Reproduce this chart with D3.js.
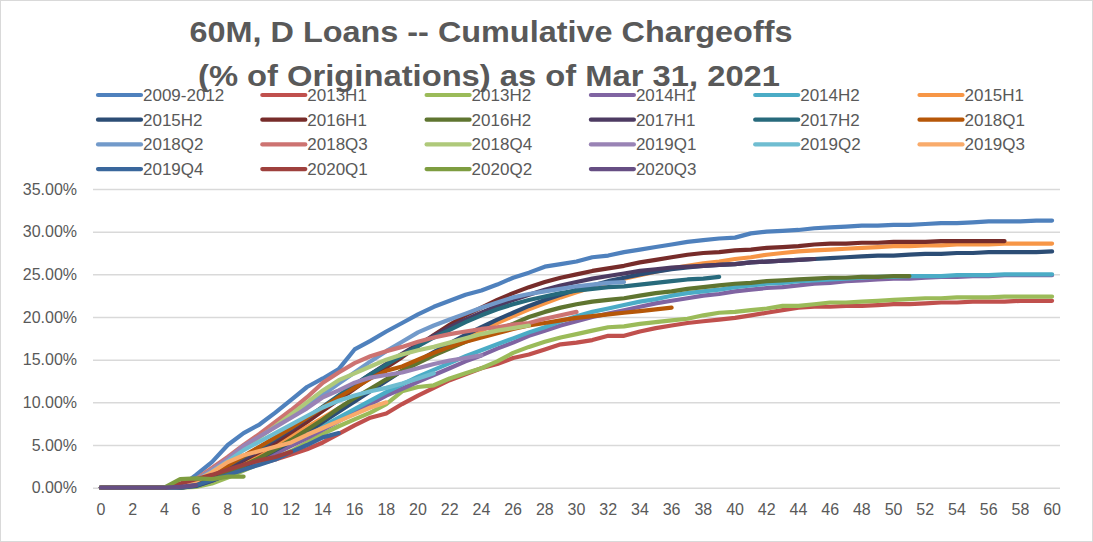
<!DOCTYPE html>
<html>
<head>
<meta charset="utf-8">
<script src="https://cdn.jsdelivr.net/npm/d3@7"></script>
<style>
  html, body { margin: 0; padding: 0; background: #fff; }
  svg { display: block; }
</style>
</head>
<body>
<svg id="chart" width="1093" height="542"></svg>
<script>
// ---------------- DATA ----------------
const titleLines = ["60M, D Loans -- Cumulative Chargeoffs", "(% of Originations) as of Mar 31, 2021"];
const months = d3.range(0, 61);
const xTickLabels = d3.range(0, 61, 2);
const yTickValues = [0, 5, 10, 15, 20, 25, 30, 35];

const seriesNames = ["2009-2012","2013H1","2013H2","2014H1","2014H2","2015H1",
  "2015H2","2016H1","2016H2","2017H1","2017H2","2018Q1",
  "2018Q2","2018Q3","2018Q4","2019Q1","2019Q2","2019Q3",
  "2019Q4","2020Q1","2020Q2","2020Q3"];

const seriesColors = ["#4F81BD","#C0504D","#9BBB59","#8064A2","#4BACC6","#F79646",
  "#2C4D75","#772C2A","#5F7530","#4D3B62","#276A7C","#B65708",
  "#729ACA","#CD7371","#AFC97A","#9983B5","#6FBDD1","#F9AB6B",
  "#3A679C","#9E403D","#7E9D40","#664E83"];

// cumulative chargeoffs, % of originations, by month on book (index = month)
const s2009_2012 = [0,0,0,0,0,0.1,1.5,3.0,5.0,6.4,7.4,8.8,10.3,11.8,12.8,13.9,16.2,17.2,18.3,19.3,20.3,21.2,21.9,22.6,23.1,23.8,24.6,25.2,25.9,26.2,26.5,27.0,27.2,27.6,27.9,28.2,28.5,28.8,29.0,29.2,29.3,29.8,30.0,30.1,30.2,30.4,30.5,30.6,30.7,30.7,30.8,30.8,30.9,31.0,31.0,31.1,31.2,31.2,31.2,31.3,31.3];
const s2013H1 = [0,0,0,0,0,0,0.3,0.8,1.5,2.2,2.8,3.3,3.9,4.5,5.3,6.3,7.3,8.2,8.7,9.8,10.8,11.7,12.6,13.3,14.0,14.5,15.2,15.6,16.2,16.8,17.0,17.3,17.8,17.8,18.3,18.7,19.0,19.3,19.5,19.7,19.9,20.2,20.5,20.8,21.1,21.2,21.2,21.3,21.3,21.4,21.5,21.5,21.6,21.7,21.7,21.8,21.8,21.8,21.9,21.9,21.9];
const s2013H2 = [0,0,0,0,0,0,0.1,0.5,1.2,2.0,2.8,3.5,4.3,5.3,6.3,7.2,8.0,8.8,9.8,11.3,11.8,12.0,12.8,13.4,14.0,14.8,15.8,16.5,17.1,17.6,18.0,18.4,18.8,18.9,19.2,19.4,19.6,19.8,20.2,20.5,20.6,20.8,21.0,21.3,21.3,21.5,21.7,21.7,21.8,21.9,22.0,22.1,22.2,22.2,22.3,22.3,22.3,22.4,22.4,22.4,22.4];
const s2014H1 = [0,0,0,0,0,0,0.2,0.8,1.6,2.4,3.2,4.0,4.9,5.8,6.8,7.8,8.8,9.8,10.8,11.6,12.4,13.2,14.0,14.8,15.5,16.3,17.0,17.8,18.4,19.0,19.5,20.0,20.4,20.8,21.2,21.6,21.9,22.2,22.5,22.7,23.0,23.2,23.4,23.5,23.7,23.9,24.0,24.2,24.3,24.4,24.5,24.5,24.6,24.7,24.7,24.8,24.8,24.9,24.9,24.9,24.9];
const s2014H2 = [0,0,0,0,0,0,0.3,1.0,2.0,2.9,3.8,4.6,5.4,6.2,7.2,8.2,9.2,10.2,11.2,12.1,13.0,13.8,14.6,15.4,16.1,16.8,17.5,18.2,18.8,19.5,20.1,20.6,21.0,21.4,21.8,22.1,22.5,22.8,23.0,23.2,23.5,23.7,23.9,24.0,24.2,24.3,24.4,24.5,24.6,24.7,24.7,24.8,24.8,24.8,24.9,24.9,24.9,25.0,25.0,25.0,25.0];
const s2015H1 = [0,0,0,0,0,0,0.3,1.0,2.0,3.0,4.0,5.0,6.0,7.1,8.2,9.3,10.4,11.5,12.6,13.7,14.7,15.7,16.6,17.5,18.4,19.3,20.1,20.9,21.6,22.3,22.9,23.5,24.0,24.5,24.9,25.3,25.7,26.0,26.3,26.5,26.8,27.0,27.3,27.5,27.7,27.8,27.9,28.0,28.1,28.2,28.3,28.3,28.4,28.4,28.5,28.5,28.5,28.6,28.6,28.6,28.6];
const s2015H2 = [0,0,0,0,0,0,0.2,0.8,1.6,2.5,3.4,4.4,5.4,6.5,7.7,8.9,10.1,11.3,12.5,13.7,14.8,15.9,16.9,17.9,18.8,19.7,20.5,21.3,22.0,22.6,23.2,23.7,24.2,24.6,25.0,25.3,25.6,25.8,26.0,26.1,26.2,26.4,26.5,26.6,26.7,26.8,26.9,27.0,27.1,27.2,27.2,27.3,27.4,27.4,27.5,27.5,27.6,27.6,27.6,27.6,27.7];
const s2016H1 = [0,0,0,0,0,0.1,0.6,1.4,2.3,3.2,4.2,5.3,6.5,7.7,9.0,10.3,11.6,12.9,14.1,15.3,16.6,17.9,19.1,20.2,21.1,22.0,22.8,23.5,24.1,24.6,25.0,25.4,25.7,26.0,26.4,26.7,27.0,27.3,27.5,27.6,27.8,27.9,28.1,28.2,28.3,28.5,28.6,28.6,28.7,28.7,28.8,28.8,28.8,28.9,28.9,28.9,28.9,28.9];
const s2016H2 = [0,0,0,0,0,0,0.4,1.0,1.8,2.6,3.5,4.5,5.6,6.8,8.0,9.3,10.5,11.6,12.7,13.7,14.6,15.5,16.3,17.1,17.8,18.5,19.2,20.0,20.6,21.1,21.5,21.8,22.0,22.2,22.5,22.8,23.0,23.3,23.5,23.7,23.9,24.0,24.2,24.3,24.4,24.5,24.6,24.6,24.7,24.7,24.8,24.8];
const s2017H1 = [0,0,0,0,0,0.1,0.6,1.4,2.3,3.3,4.4,5.6,6.8,8.1,9.4,10.7,12.0,13.3,14.5,15.7,16.8,17.8,18.8,19.7,20.5,21.3,22.0,22.6,23.2,23.7,24.1,24.5,24.8,25.1,25.4,25.6,25.8,25.9,26.0,26.1,26.2,26.4,26.5,26.6,26.7,26.8];
const s2017H2 = [0,0,0,0,0,0.1,0.7,1.6,2.6,3.6,4.7,5.8,7.0,8.2,9.5,10.8,12.1,13.3,14.4,15.5,16.6,17.6,18.5,19.4,20.2,20.9,21.5,22.0,22.4,22.8,23.1,23.3,23.5,23.6,23.8,24.0,24.2,24.4,24.5,24.7];
const s2018Q1 = [0,0,0,0,0,0.1,0.7,1.6,2.6,3.7,4.8,5.9,7.0,8.2,9.4,10.6,11.7,12.8,13.7,14.2,15.0,15.8,16.5,17.1,17.6,18.1,18.6,19.0,19.3,19.6,19.9,20.1,20.3,20.5,20.7,20.9,21.1];
const s2018Q2 = [0,0,0,0,0,0.1,1.0,2.2,3.5,4.8,6.0,7.2,8.4,9.6,10.9,12.2,13.5,14.8,16.0,17.1,18.2,19.0,19.7,20.4,21.1,21.7,22.3,22.7,23.0,23.3,23.6,23.8,24.0,24.1];
const s2018Q3 = [0,0,0,0,0,0.1,1.0,2.3,3.6,5.0,6.3,7.7,9.1,10.6,12.3,13.5,14.6,15.4,16.0,16.5,17.1,17.6,18.0,18.3,18.6,18.8,19.1,19.3,19.8,20.2,20.6];
const s2018Q4 = [0,0,0,0,0,0.1,0.9,2.1,3.3,4.6,5.9,7.2,8.6,10.0,11.4,12.6,13.4,14.2,15.0,15.6,16.1,16.5,17.0,17.5,18.0,18.4,18.7,19.0];
const s2019Q1 = [0,0,0,0,0,0.1,0.9,2.1,3.4,4.9,6.0,7.1,8.2,9.3,10.6,11.4,12.3,12.9,13.2,13.5,14.0,14.5,14.9,15.2,15.5];
const s2019Q2 = [0,0,0,0,0,0.1,0.8,1.9,3.1,4.4,5.4,6.4,7.4,8.4,9.4,10.2,10.8,11.3,11.7,12.2,12.8,13.4];
const s2019Q3 = [0,0,0,0,0,0.1,0.8,1.8,3.0,3.8,4.3,4.8,5.3,6.2,7.0,7.8,8.6,9.4,10.0];
const s2019Q4 = [0,0,0,0,0,0,0.3,0.9,1.5,2.1,2.7,3.3,4.2,5.0,5.9,6.4];
const s2020Q1 = [0,0,0,0,0,0.5,1.0,1.5,2.1,2.7,3.2,3.6,4.2];
const s2020Q2 = [0,0,0,0,0,1.0,1.1,1.0,1.3,1.3];
const s2020Q3 = [0,0,0,0,0,0.1,0.3];

const seriesValues = [s2009_2012,s2013H1,s2013H2,s2014H1,s2014H2,s2015H1,
  s2015H2,s2016H1,s2016H2,s2017H1,s2017H2,s2018Q1,
  s2018Q2,s2018Q3,s2018Q4,s2019Q1,s2019Q2,s2019Q3,
  s2019Q4,s2020Q1,s2020Q2,s2020Q3];

// ---------------- CHART ----------------
const svg = d3.select("#chart");
const W = 1093, H = 542;
const textColor = "#595959";
const font = "'Liberation Sans', Arial, sans-serif";

svg.append("rect").attr("x", 0.5).attr("y", 0.5).attr("width", W - 1).attr("height", H - 1)
  .attr("fill", "#fff").attr("stroke", "#d9d9d9").attr("stroke-width", 1);

const plotLeft = 93, plotRight = 1060, plotTop = 189, plotBottom = 487.7;

const x = d3.scaleBand().domain(months).range([plotLeft, plotRight]).paddingInner(0).paddingOuter(0);
const xc = m => x(m) + x.bandwidth() / 2;
const y = d3.scaleLinear().domain([0, 35]).range([plotBottom, plotTop]);

// gridlines
const yAxis = d3.axisLeft(y).tickValues(yTickValues)
  .tickSize(-(plotRight - plotLeft)).tickPadding(16)
  .tickFormat(d => d3.format(".2f")(d) + "%");
const gy = svg.append("g").attr("transform", `translate(${plotLeft},0)`).call(yAxis);
gy.select(".domain").remove();
gy.selectAll(".tick line").attr("stroke", "#d9d9d9").attr("stroke-width", 1.5);
gy.selectAll(".tick text").attr("fill", textColor).attr("font-family", font).attr("font-size", 16);

// x axis labels
const xAxis = d3.axisBottom(x).tickValues(xTickLabels).tickSize(0).tickPadding(16);
const gx = svg.append("g").attr("transform", `translate(0,${plotBottom})`).call(xAxis);
gx.select(".domain").remove();
gx.selectAll(".tick text").attr("fill", textColor).attr("font-family", font).attr("font-size", 16);

// lines
const line = d3.line().x((d, i) => xc(i)).y(d => y(d));
svg.append("g").selectAll("path")
  .data(seriesValues)
  .join("path")
  .attr("d", d => line(d))
  .attr("fill", "none")
  .attr("stroke", (d, i) => seriesColors[i])
  .attr("stroke-width", 4.2)
  .attr("stroke-linejoin", "round")
  .attr("stroke-linecap", "round");

// title
const title = svg.append("g");
title.append("text").attr("x", 491).attr("y", 42).attr("text-anchor", "middle")
  .attr("font-family", font).attr("font-weight", "bold").attr("font-size", 30)
  .attr("fill", textColor).attr("textLength", 603).attr("lengthAdjust", "spacingAndGlyphs")
  .text(titleLines[0]);
title.append("text").attr("x", 489).attr("y", 86).attr("text-anchor", "middle")
  .attr("font-family", font).attr("font-weight", "bold").attr("font-size", 30)
  .attr("fill", textColor).attr("textLength", 582).attr("lengthAdjust", "spacingAndGlyphs")
  .text(titleLines[1]);

// legend
const legX0 = 97, legDX = 164.3, legY0 = 95, legDY = 24.7;
const leg = svg.append("g").selectAll("g")
  .data(seriesNames)
  .join("g")
  .attr("transform", (d, i) => `translate(${legX0 + (i % 6) * legDX},${legY0 + Math.floor(i / 6) * legDY})`);
leg.append("line").attr("x1", 1).attr("x2", 44).attr("y1", 0).attr("y2", 0)
  .attr("stroke", (d, i) => seriesColors[i]).attr("stroke-width", 4.2).attr("stroke-linecap", "round");
leg.append("text").attr("x", 46).attr("y", 6).attr("font-family", font).attr("font-size", 17)
  .attr("fill", textColor).text(d => d);
</script>
</body>
</html>
